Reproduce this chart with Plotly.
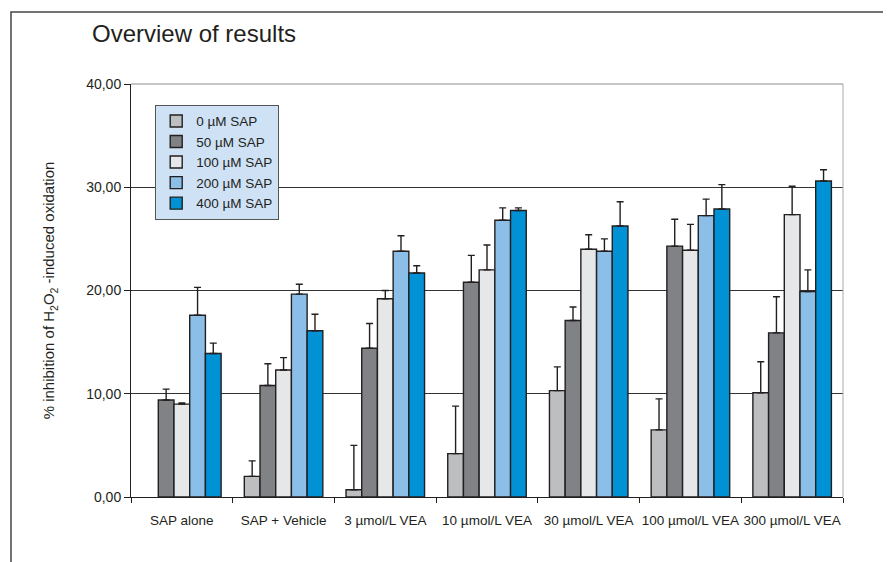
import plotly.graph_objects as go

categories = ["SAP alone", "SAP + Vehicle", "3 µmol/L VEA", "10 µmol/L VEA",
              "30 µmol/L VEA", "100 µmol/L VEA", "300 µmol/L VEA"]
series_names = ["0 µM SAP", "50 µM SAP", "100 µM SAP", "200 µM SAP", "400 µM SAP"]

sap_0 = [None, 2.0, 0.7, 4.2, 10.3, 6.5, 10.1]
sap_50 = [9.4, 10.8, 14.4, 20.8, 17.1, 24.3, 15.9]
sap_100 = [9.0, 12.3, 19.2, 22.0, 24.0, 23.9, 27.35]
sap_200 = [17.6, 19.65, 23.8, 26.8, 23.8, 27.25, 19.9]
sap_400 = [13.9, 16.1, 21.7, 27.75, 26.25, 27.9, 30.6]

err_0 = [0, 1.5, 4.3, 4.6, 2.3, 3.0, 3.0]
err_50 = [1.05, 2.1, 2.4, 2.6, 1.3, 2.6, 3.5]
err_100 = [0.1, 1.2, 0.8, 2.4, 1.4, 2.5, 2.75]
err_200 = [2.7, 0.95, 1.5, 1.2, 1.2, 1.6, 2.1]
err_400 = [1.0, 1.6, 0.7, 0.25, 2.35, 2.35, 1.1]

colors = ["#bcbec0", "#808285", "#e6e7e8", "#8bbfe8", "#0092d4"]

y_tick_vals = [0, 10, 20, 30, 40]
y_tick_text = ["0,00", "10,00", "20,00", "30,00", "40,00"]

values = [sap_0, sap_50, sap_100, sap_200, sap_400]
errors = [err_0, err_50, err_100, err_200, err_400]

font_family = "Liberation Sans, Arial, sans-serif"
ink = "#231f20"

# page body adds an 8px offset; margins compensate so the plot area sits at
# x 131..843, y 84..497 in the window
fig = go.Figure()
for i, (name, vals, errs, col) in enumerate(zip(series_names, values, errors, colors)):
    fig.add_trace(go.Bar(
        name=name,
        x=categories,
        y=vals,
        legendgroup=f"g{i}",
        marker=dict(color=col, line=dict(color=ink, width=1.4)),
        error_y=dict(type="data", symmetric=False, array=errs,
                     arrayminus=[0] * len(errs),
                     color=ink, thickness=1.4, width=3.5),
    ))

fig.update_layout(
    width=891, height=562,
    margin=dict(l=123, r=56, t=76, b=73),
    paper_bgcolor="white", plot_bgcolor="white",
    barmode="group", bargap=0.228, bargroupgap=0,
    font=dict(family=font_family, color=ink, size=14),
    title=dict(text="Overview of results", x=84 / 891, xref="container",
               xanchor="left", y=1 - 26 / 562, yref="container", yanchor="middle",
               font=dict(family=font_family, size=24, color=ink)),
    showlegend=True,
    legend=dict(x=0.034, y=0.95, xanchor="left", yanchor="top",
                bgcolor="#cfe2f5", bordercolor="#555555", borderwidth=1,
                font=dict(family=font_family, size=13.5, color=ink),
                traceorder="grouped", tracegroupgap=0),
    xaxis=dict(type="category", showline=True, linecolor=ink, linewidth=1,
               ticks="outside", tickson="boundaries", ticklen=5, tickcolor=ink,
               tickangle=0, automargin=False,
               tickfont=dict(size=13.5, color=ink), ticklabelstandoff=11,
               showgrid=False),
    yaxis=dict(range=[0, 40], tickvals=y_tick_vals, ticktext=y_tick_text,
               showline=True, linecolor=ink, linewidth=1, automargin=False,
               ticks="outside", ticklen=6, tickcolor=ink,
               tickfont=dict(size=14, color=ink),
               showgrid=True, gridcolor="#333333", gridwidth=1,
               zeroline=False,
               title=dict(text="% inhibition of H<sub>2</sub>O<sub>2</sub> -induced oxidation",
                          font=dict(size=15, color=ink), standoff=27)),
    shapes=[
        dict(type="line", xref="paper", yref="paper", x0=0, x1=1, y0=1, y1=1,
             line=dict(color="#8c8c8c", width=1)),
        dict(type="line", xref="paper", yref="paper", x0=1, x1=1, y0=0, y1=1,
             line=dict(color="#a8a8a8", width=1)),
        dict(type="rect", xref="paper", yref="paper",
             x0=(11 - 131) / 712, x1=(886 - 131) / 712,
             y0=(497 - 600) / 413, y1=(497 - 12) / 413,
             line=dict(color="#444444", width=1.5), fillcolor="rgba(0,0,0,0)"),
    ],
)

fig.write_html("out.html")
